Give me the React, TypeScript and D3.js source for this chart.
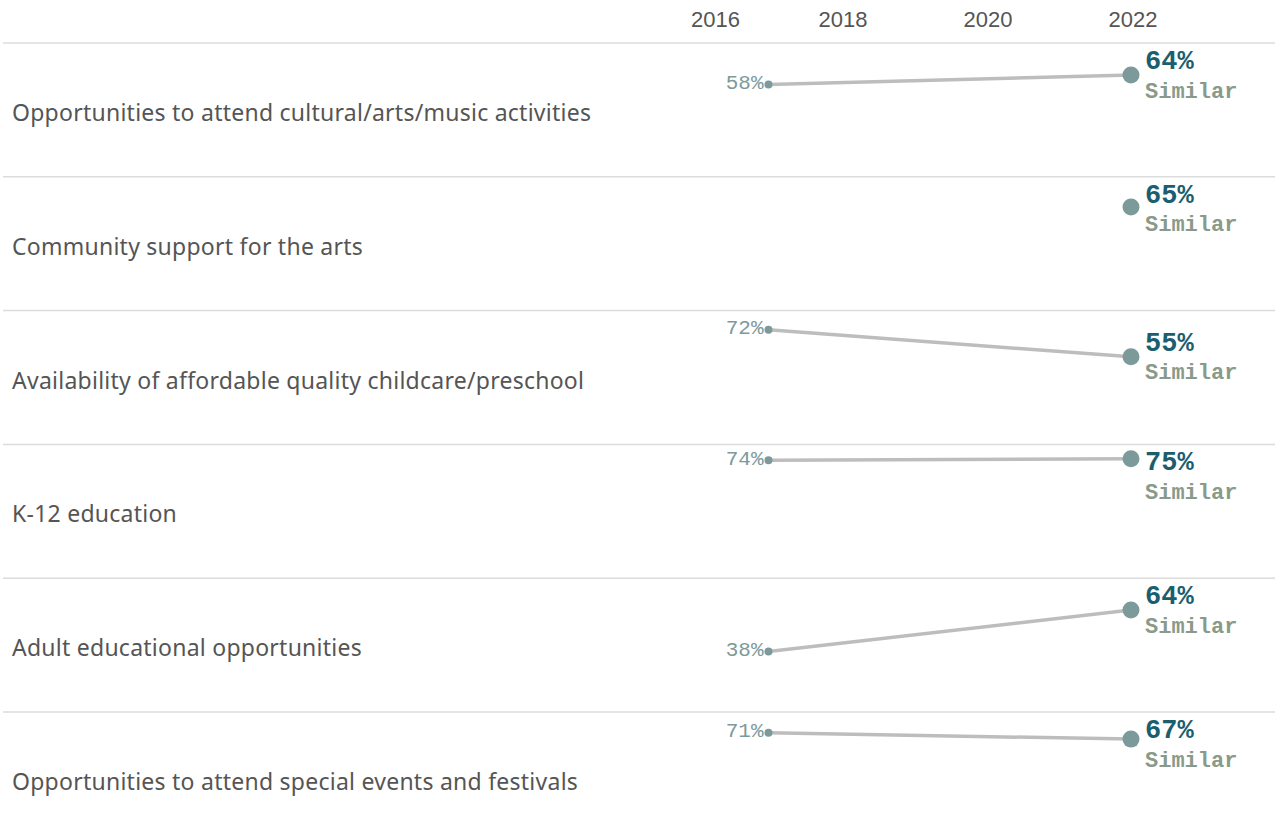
import React from "react";
import * as d3 from "d3";

const categories: string[] = [
  "Opportunities to attend cultural/arts/music activities",
  "Community support for the arts",
  "Availability of affordable quality childcare/preschool",
  "K-12 education",
  "Adult educational opportunities",
  "Opportunities to attend special events and festivals",
];
const values2017: (number | null)[] = [58, null, 72, 74, 38, 71];
const values2022: number[] = [64, 65, 55, 75, 64, 67];
const comparisons: string[] = ["Similar", "Similar", "Similar", "Similar", "Similar", "Similar"];
const startYear = 2017;
const endYear = 2022;
const tickYears: number[] = [2016, 2018, 2020, 2022];

const W = 1275;
const H = 839;
const TOP = 43;
const ROW_H = 133.8;

export default function App() {
  const x = d3.scaleLinear().domain([2018, 2022]).range([841, 1131]);
  const rows = d3
    .scaleBand<string>()
    .domain(categories)
    .range([TOP, TOP + ROW_H * categories.length])
    .padding(0);
  const y = d3.scaleLinear().domain([0, 84]).range([134, 0]);
  const line = d3
    .line<[number, number]>()
    .x((d) => d[0])
    .y((d) => d[1]);

  const mono = "'Liberation Mono', 'Courier New', monospace";
  const sans = "'Noto Sans', 'Open Sans', sans-serif";

  return (
    <svg
      width={W}
      height={H}
      style={{ position: "absolute", left: 0, top: 0, background: "#fff" }}
    >
      {tickYears.map((yr, i) => (
        <text
          key={yr}
          x={i === 0 ? 691 : x(yr) + 2}
          y={27}
          textAnchor={i === 0 ? "start" : "middle"}
          fontFamily="'Liberation Sans', Arial, sans-serif"
          fontSize={22}
          fill="#555"
        >
          {yr}
        </text>
      ))}

      {categories.map((c) => (
        <line
          key={"sep" + c}
          x1={3}
          x2={W}
          y1={rows(c)!}
          y2={rows(c)!}
          stroke="#dcdcdc"
          strokeWidth={1.5}
        />
      ))}

      {categories.map((c, i) => {
        const top = rows(c)!;
        const v0 = values2017[i];
        const v1 = values2022[i];
        const px0 = x(startYear);
        const px1 = x(endYear);
        const py1 = top + y(v1);
        const py0 = v0 != null ? top + y(v0) : null;
        const valY = Math.max(py1 - 13, top + 19);
        return (
          <g key={c}>
            <text
              x={12}
              y={top + ROW_H / 2 + 2}
              dominantBaseline="central"
              fontFamily={sans}
              fontSize={23}
              letterSpacing={0.25}
              fill="#555"
            >
              {c}
            </text>
            {py0 != null && (
              <path
                d={line([
                  [px0, py0],
                  [px1, py1],
                ])!}
                stroke="#bdbdbd"
                strokeWidth={3.5}
                fill="none"
              />
            )}
            {py0 != null && (
              <>
                <circle cx={px0} cy={py0} r={4} fill="#7d9a9a" />
                <text
                  x={px0 - 5}
                  y={py0 - 1}
                  textAnchor="end"
                  dominantBaseline="central"
                  fontFamily={mono}
                  fontSize={21}
                  fill="#7d9a9a"
                >
                  {v0}%
                </text>
              </>
            )}
            <circle cx={px1} cy={py1} r={8.5} fill="#7d9a9a" />
            <text
              x={px1 + 14}
              y={valY}
              dominantBaseline="central"
              fontFamily={mono}
              fontWeight="bold"
              fontSize={27}
              fill="#1b5e6e"
            >
              {v1}%
            </text>
            <text
              x={px1 + 14}
              y={valY + 30}
              dominantBaseline="central"
              fontFamily={mono}
              fontWeight="bold"
              fontSize={22}
              fill="#8a9a8a"
            >
              {comparisons[i]}
            </text>
          </g>
        );
      })}
    </svg>
  );
}
